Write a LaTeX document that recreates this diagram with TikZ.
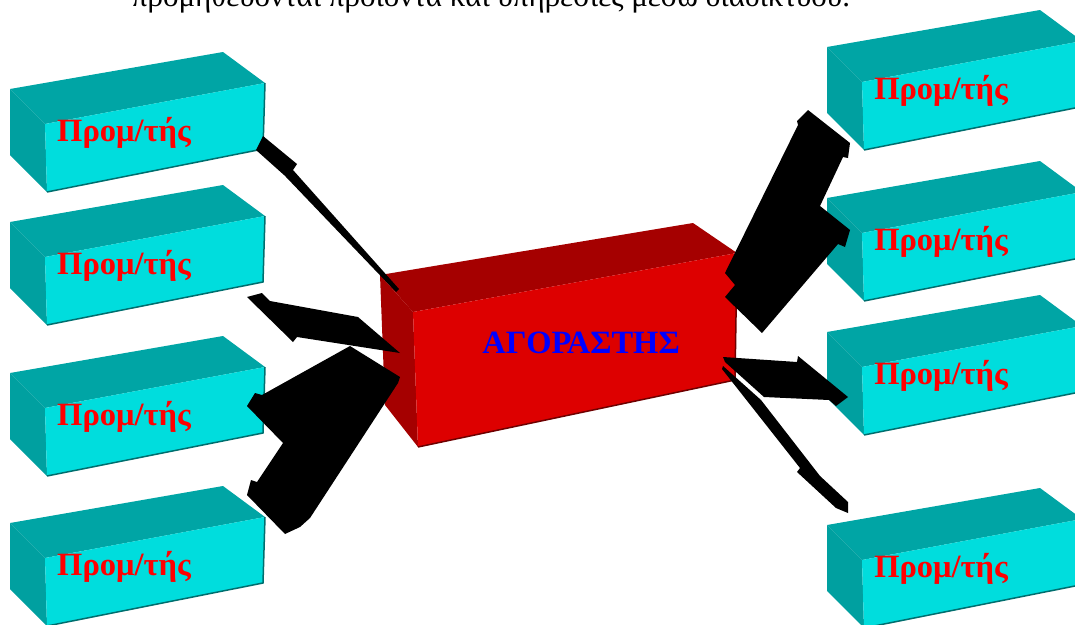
\documentclass[tikz,border=0pt]{standalone}
\usepackage{fontspec}
\setmainfont{Liberation Serif}
\definecolor{cyfront}{RGB}{0,221,221}
\definecolor{cytop}{RGB}{0,165,165}
\definecolor{cyleft}{RGB}{0,160,160}
\definecolor{cyedge}{RGB}{0,110,110}
\definecolor{rdfront}{RGB}{221,0,0}
\definecolor{rdtop}{RGB}{165,0,0}
\definecolor{rdedge}{RGB}{110,0,0}
\tikzset{
  lbl/.style={font=\bfseries\fontsize{32.5}{32.5}\selectfont, text=red, inner sep=0pt, anchor=base},
  arrowshape/.style={fill=black},
}
\newcommand\supbox[3]{%
  \fill[cytop] (#1,#2) -- (#1+213,#2-37) -- (#1+255,#2-6) -- (#1+35,#2+35) -- cycle;
  \fill[cyleft] (#1,#2) -- (#1+35,#2+35) -- (#1+37,#2+103) -- (#1,#2+66) -- cycle;
  \fill[cyfront] (#1+35,#2+35) -- (#1+255,#2-6) -- (#1+253,#2+60) -- (#1+37,#2+103) -- cycle;
  \draw[cyedge, line width=1.5pt] (#1+37,#2+103) -- (#1+253,#2+60) -- (#1+255,#2-6);
  \node[lbl] (#3) at (#1+114,#2+52) {Προμ/τής};
}
\begin{document}
\begin{tikzpicture}[x=1pt,y=-1pt]
\useasboundingbox (0,0) rectangle (1075,624);
% title line (cut at top, as in the reference)
\node[font=\fontsize{31}{31}\selectfont, anchor=base, inner sep=0pt] (title) at (491,6)
  {προμηθεύονται προϊόντα και υπηρεσίες μέσω διαδικτύου.};
% supplier boxes
\supbox{10}{89}{l1}
\supbox{10}{222}{l2}
\supbox{10}{373}{l3}
\supbox{10}{523}{l4}
\supbox{827}{47}{r1}
\supbox{827}{198}{r2}
\supbox{827}{332}{r3}
\supbox{827}{525}{r4}
% buyer box
\fill[rdtop] (380,275) -- (693,223) -- (737,253) -- (413,312) -- cycle;
\fill[rdtop] (380,275) -- (413,312) -- (418,447) -- (385,405) -- cycle;
\fill[rdfront] (413,312) -- (737,253) -- (735,380) -- (418,447) -- cycle;
\draw[rdedge, line width=1.5pt] (418,447) -- (735,380) -- (737,253);
\node[lbl, text=blue] (buyer) at (581,353) {ΑΓΟΡΑΣΤΗΣ};
% arrows
\fill[arrowshape] (263,136) -- (297,164) -- (293,170) -- (399,289) -- (396,292) -- (286,177) -- (284,175) -- (256,150) -- cycle;
\fill[arrowshape] (247,297) -- (262,293) -- (270,301) -- (358,317) -- (400,353) -- (387,351) -- (297,337) -- (293,342) -- cycle;
\fill[arrowshape] (350,346) -- (400,377) -- (398,383) -- (310,518) -- (300,527) -- (285,534) -- (247,495) -- (251,480) -- (257,482) -- (283,443) -- (247,406) -- (255,393) -- (262,395) -- cycle;
\fill[arrowshape] (797,121) -- (808,110) -- (850,143) -- (848,158) -- (843,157) -- (820,206) -- (850,230) -- (845,247) -- (838,244) -- (762,333) -- (725,297) -- (735,285) -- (725,273) -- (798,125) -- cycle;
\fill[arrowshape] (723,357) -- (797,362) -- (798,356) -- (848,397) -- (836,406) -- (829,400) -- (764,397) -- (725,362) -- cycle;
\fill[arrowshape] (723,366) -- (761,400) -- (820,476) -- (848,502) -- (848,513) -- (836,508) -- (797,472) -- (800,468) -- (722,369) -- cycle;
\end{tikzpicture}
\end{document}
